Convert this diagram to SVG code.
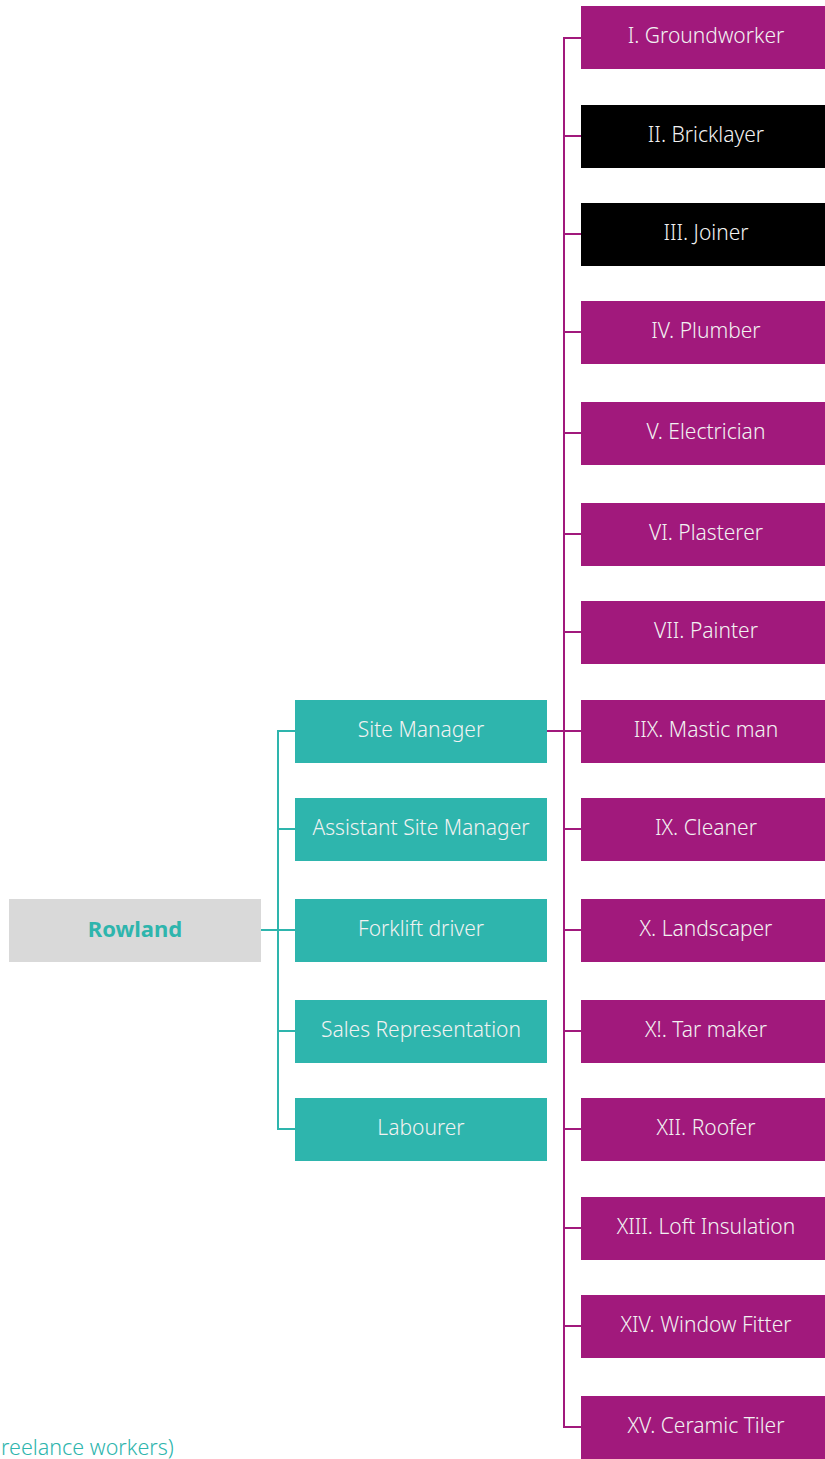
<svg xmlns="http://www.w3.org/2000/svg" width="825" height="1459" viewBox="0 0 825 1459">
<style>
.p{fill:#a1197c}
.b{fill:#000000}
.t{fill:#2eb5ad}
.lbl{font-family:"Noto Sans","Open Sans",sans-serif;font-weight:300;font-size:21px;fill:#f2f2f2;text-anchor:middle}
.pl{stroke:#a1197c;stroke-width:2;fill:none}
.tl{stroke:#2eb5ad;stroke-width:2;fill:none}
</style>
<rect width="825" height="1459" fill="#ffffff"/>
<g id="connectors">
<path class="pl" d="M581,38H564V1427H581 M564,136H581 M564,234H581 M564,332H581 M564,433H581 M564,534H581 M564,632H581 M547,731H581 M564,829H581 M564,930H581 M564,1031H581 M564,1129H581 M564,1228H581 M564,1326H581"/>
<path class="tl" d="M295,731H278V1129H295 M278,829H295 M261,930H295 M278,1031H295"/>
</g>
<g id="rowland"><rect x="9" y="899" width="252" height="63" fill="#d9d9d9"/><text x="135" y="937" style="font-family:'Noto Sans','Open Sans',sans-serif;font-weight:700;font-size:22px;fill:#2eb5ad;text-anchor:middle">Rowland</text></g>
<g id="site-manager"><rect class="t" x="295" y="700" width="252" height="63"/><text class="lbl" x="421" y="737">Site Manager</text></g>
<g id="assistant-site-manager"><rect class="t" x="295" y="798" width="252" height="63"/><text class="lbl" x="421" y="835">Assistant Site Manager</text></g>
<g id="forklift-driver"><rect class="t" x="295" y="899" width="252" height="63"/><text class="lbl" x="421" y="936">Forklift driver</text></g>
<g id="sales-representation"><rect class="t" x="295" y="1000" width="252" height="63"/><text class="lbl" x="421" y="1037">Sales Representation</text></g>
<g id="labourer"><rect class="t" x="295" y="1098" width="252" height="63"/><text class="lbl" x="421" y="1135">Labourer</text></g>
<g id="n1"><rect class="p" x="581" y="6" width="244" height="63"/><text class="lbl" x="706" y="43">I. Groundworker</text></g>
<g id="n2"><rect class="b" x="581" y="105" width="244" height="63"/><text class="lbl" x="706" y="142">II. Bricklayer</text></g>
<g id="n3"><rect class="b" x="581" y="203" width="244" height="63"/><text class="lbl" x="706" y="240">III. Joiner</text></g>
<g id="n4"><rect class="p" x="581" y="301" width="244" height="63"/><text class="lbl" x="706" y="338">IV. Plumber</text></g>
<g id="n5"><rect class="p" x="581" y="402" width="244" height="63"/><text class="lbl" x="706" y="439">V. Electrician</text></g>
<g id="n6"><rect class="p" x="581" y="503" width="244" height="63"/><text class="lbl" x="706" y="540">VI. Plasterer</text></g>
<g id="n7"><rect class="p" x="581" y="601" width="244" height="63"/><text class="lbl" x="706" y="638">VII. Painter</text></g>
<g id="n8"><rect class="p" x="581" y="700" width="244" height="63"/><text class="lbl" x="706" y="737">IIX. Mastic man</text></g>
<g id="n9"><rect class="p" x="581" y="798" width="244" height="63"/><text class="lbl" x="706" y="835">IX. Cleaner</text></g>
<g id="n10"><rect class="p" x="581" y="899" width="244" height="63"/><text class="lbl" x="706" y="936">X. Landscaper</text></g>
<g id="n11"><rect class="p" x="581" y="1000" width="244" height="63"/><text class="lbl" x="706" y="1037">X!. Tar maker</text></g>
<g id="n12"><rect class="p" x="581" y="1098" width="244" height="63"/><text class="lbl" x="706" y="1135">XII. Roofer</text></g>
<g id="n13"><rect class="p" x="581" y="1197" width="244" height="63"/><text class="lbl" x="706" y="1234">XIII. Loft Insulation</text></g>
<g id="n14"><rect class="p" x="581" y="1295" width="244" height="63"/><text class="lbl" x="706" y="1332">XIV. Window Fitter</text></g>
<g id="n15"><rect class="p" x="581" y="1396" width="244" height="63"/><text class="lbl" x="706" y="1433">XV. Ceramic Tiler</text></g>
<text x="1" y="1455" style="font-family:'Noto Sans','Open Sans',sans-serif;font-weight:300;font-size:21.5px;fill:#2eb5ad">reelance workers)</text>
</svg>
